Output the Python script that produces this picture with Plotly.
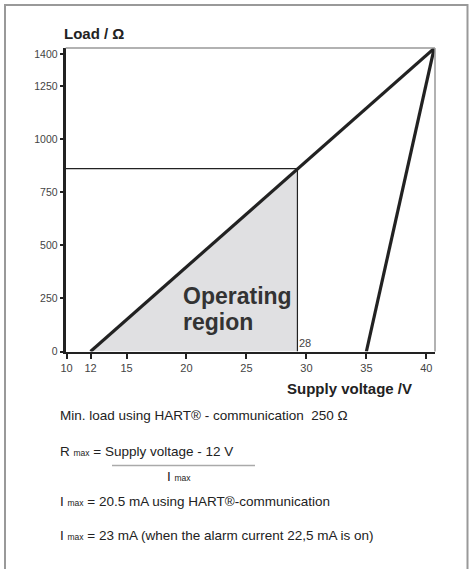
import plotly.graph_objects as go

W, H = 473, 569

# ---- data ----
voltage_ticks = [10, 12, 15, 20, 25, 30, 35, 40]
load_ticks = [0, 250, 500, 750, 1000, 1250, 1400]

upper_line_v = [12, 40.65]
upper_line_r = [0, 1428]
right_line_v = [35, 40.65]
right_line_r = [0, 1428]

op_voltage = 29.25
op_load = 862
op_label = "28"

region_v = [12, op_voltage, op_voltage, 12]
region_r = [0, op_load, 0, 0]

x_range = [9.93, 40.72]
y_range = [0, 1430]

def px(x):
    return x / W

def py(y):
    return 1 - y / H

FONT = "Liberation Sans, Arial, sans-serif"
DARK = "#222222"

fig = go.Figure()

fig.add_trace(go.Scatter(x=region_v, y=region_r, fill="toself", fillcolor="#e0e0e2",
                         line=dict(width=0), mode="lines", hoverinfo="skip"))
fig.add_trace(go.Scatter(x=[x_range[0], op_voltage], y=[op_load, op_load], mode="lines",
                         line=dict(color=DARK, width=1.2), hoverinfo="skip"))
fig.add_trace(go.Scatter(x=[op_voltage, op_voltage], y=[0, op_load], mode="lines",
                         line=dict(color=DARK, width=1.2), hoverinfo="skip"))
fig.add_trace(go.Scatter(x=upper_line_v, y=upper_line_r, mode="lines",
                         line=dict(color=DARK, width=3.2), hoverinfo="skip"))
fig.add_trace(go.Scatter(x=right_line_v, y=right_line_r, mode="lines",
                         line=dict(color=DARK, width=3.2), hoverinfo="skip"))

x0, x1 = 65.7, 435
y0, y1 = 48, 351.5

fig.update_layout(
    width=W, height=H, margin=dict(l=0, r=0, t=0, b=0, autoexpand=False),
    paper_bgcolor="white", plot_bgcolor="white", showlegend=False,
    font=dict(family=FONT, color=DARK),
    xaxis=dict(domain=[px(x0), px(x1)], range=x_range, tickmode="array", automargin=False,
               tickvals=voltage_ticks, ticktext=[str(v) for v in voltage_ticks],
               showgrid=False, zeroline=False, showline=True, linecolor=DARK, linewidth=2,
               ticks="outside", ticklen=5, tickwidth=1.5, tickcolor=DARK,
               tickfont=dict(size=11, color="#444444", family=FONT)),
    yaxis=dict(domain=[py(y1), py(y0)], range=y_range, tickmode="array", automargin=False,
               tickvals=load_ticks, ticktext=[str(v) for v in load_ticks],
               showgrid=False, zeroline=False, showline=True, linecolor=DARK, linewidth=3,
               ticks="outside", ticklen=3, tickwidth=2, tickcolor=DARK,
               tickfont=dict(size=10.5, color="#444444", family=FONT)),
)

shapes = []
shapes.append(dict(type="line", xref="paper", yref="paper", x0=px(x0), x1=px(x1), y0=py(y0), y1=py(y0),
                   line=dict(color="#999999", width=1.5)))
shapes.append(dict(type="line", xref="paper", yref="paper", x0=px(x1), x1=px(x1), y0=py(y0), y1=py(y1),
                   line=dict(color="#999999", width=1.5)))
shapes.append(dict(type="rect", xref="paper", yref="paper", x0=px(5), x1=px(467.5), y0=py(5), y1=py(600),
                   line=dict(color="#999999", width=2)))
shapes.append(dict(type="line", xref="paper", yref="paper", x0=px(112), x1=px(255), y0=py(465.5), y1=py(465.5),
                   line=dict(color="#aaaaaa", width=1.5)))
fig.update_layout(shapes=shapes)

def ann(text, x, y, size=13.5, bold=False, xanchor="left", color=DARK, yanchor="middle"):
    t = f"<b>{text}</b>" if bold else text
    fig.add_annotation(text=t, x=px(x), y=py(y), xref="paper", yref="paper", showarrow=False,
                       xanchor=xanchor, yanchor=yanchor, align="left",
                       font=dict(size=size, color=color, family=FONT))

SUB = "<span style='font-size:8.5px'>max</span>"

ann("Load / Ω", 62, 33, size=15, bold=True)
ann("Supply voltage /V", 414, 388, size=15, bold=True, xanchor="right")
ann("Operating", 181, 296, size=23, bold=True, color="#333333")
ann("region", 181, 322, size=23, bold=True, color="#333333")
fig.add_annotation(text=op_label, x=op_voltage, y=0, xref="x", yref="y", showarrow=False,
                   xanchor="left", yanchor="bottom", xshift=0, yshift=1,
                   font=dict(size=11, color="#444444", family=FONT))

ann("Min. load using HART® - communication &nbsp;250 Ω", 58, 415)
ann(f"R {SUB} = Supply voltage - 12 V", 58, 451.5)
ann(f"I {SUB}", 165, 477)
ann(f"I {SUB} = 20.5 mA using HART®-communication", 58, 501.5)
ann(f"I {SUB} = 23 mA (when the alarm current 22,5 mA is on)", 58, 535)

fig.write_html("out.html", config={"displayModeBar": False},
               post_script="document.body.style.margin='0';document.body.style.overflow='hidden';")
